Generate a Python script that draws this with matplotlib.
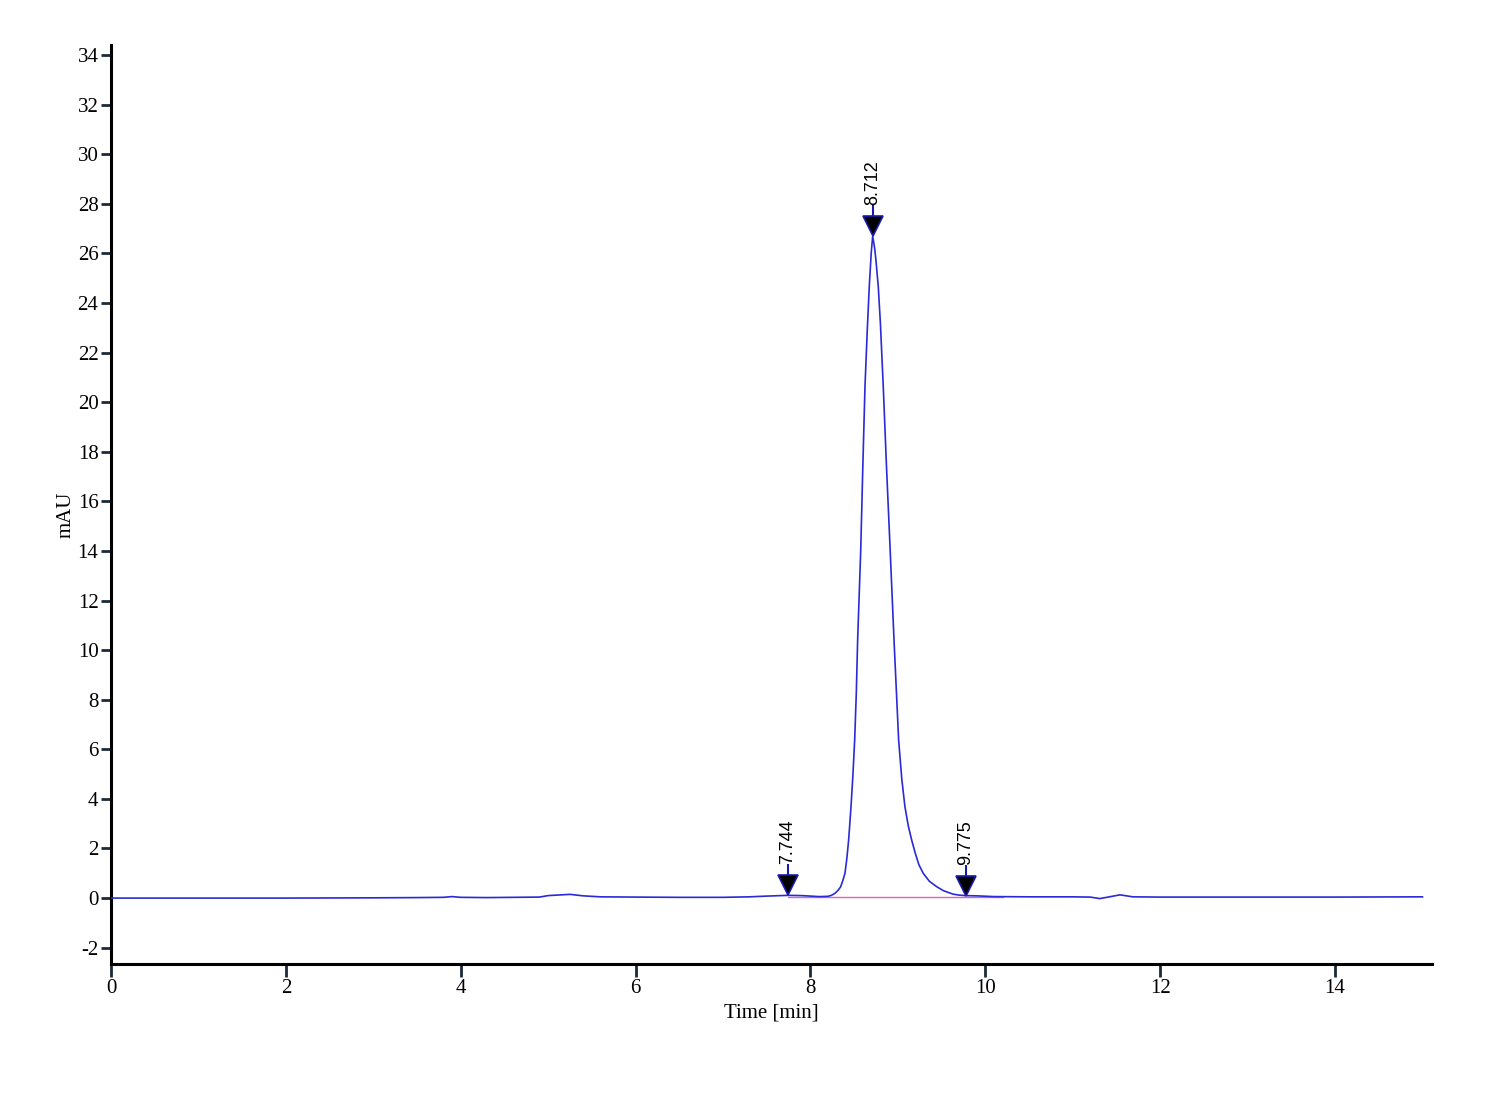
import matplotlib
matplotlib.use("Agg")
import matplotlib.pyplot as plt
import matplotlib.transforms as mtransforms

# ---- data ----
time_min = [0.0, 1.0, 2.0, 3.0, 3.5, 3.8, 3.9, 4.0, 4.3, 4.6, 4.9, 5.0, 5.1, 5.25, 5.4, 5.6,
            6.0, 6.5, 7.0, 7.3, 7.5, 7.744, 7.9, 8.1, 8.2, 8.24, 8.28, 8.32, 8.346, 8.37, 8.395,
            8.415, 8.437, 8.464, 8.485, 8.506, 8.525, 8.540, 8.575, 8.60, 8.624, 8.650, 8.673,
            8.695, 8.712, 8.735, 8.750, 8.776, 8.800, 8.833, 8.870, 8.910, 8.956, 9.009, 9.045,
            9.081, 9.12, 9.158, 9.20, 9.24, 9.29, 9.36, 9.444, 9.52, 9.63, 9.70, 9.775,
            9.9, 10.1, 10.5, 11.0, 11.2, 11.31, 11.42, 11.54, 11.69, 12.0, 13.0, 14.0, 15.0]
signal_mau = [0.0, 0.0, 0.0, 0.01, 0.02, 0.03, 0.06, 0.03, 0.02, 0.03, 0.04, 0.10, 0.12, 0.15, 0.09, 0.05,
              0.04, 0.03, 0.03, 0.05, 0.08, 0.11, 0.10, 0.06, 0.07, 0.11, 0.19, 0.33, 0.46, 0.70, 1.00,
              1.55, 2.34, 3.68, 4.90, 6.37, 8.30, 10.41, 14.00, 17.50, 20.63, 22.90, 24.66,
              26.00, 26.70, 26.20, 25.70, 24.66, 23.20, 20.63, 17.40, 14.20, 10.41, 6.37, 4.80,
              3.68, 2.90, 2.34, 1.80, 1.35, 1.00, 0.68, 0.46, 0.30, 0.16, 0.12, 0.10,
              0.09, 0.06, 0.05, 0.05, 0.04, -0.02, 0.05, 0.13, 0.05, 0.04, 0.04, 0.04, 0.05]

peak_times = [7.744, 8.712, 9.775]
peak_heights = [0.11, 26.70, 0.10]
peak_labels = ["7.744", "8.712", "9.775"]

baseline_t = [7.744, 10.2]
baseline_y = [0.05, 0.05]

x_ticks = [0, 2, 4, 6, 8, 10, 12, 14]
y_ticks = [-2, 0, 2, 4, 6, 8, 10, 12, 14, 16, 18, 20, 22, 24, 26, 28, 30, 32, 34]

# ---- figure ----
fig = plt.figure(figsize=(15, 11), dpi=100)
ax = fig.add_axes([0.074, 0.1236, 0.8807, 0.8354])

ax.plot(baseline_t, baseline_y, color="#e060c0", lw=1.0, zorder=2)
ax.plot(time_min, signal_mau, color="#2a2ad8", lw=1.2, zorder=3)

serif = ["Liberation Serif", "DejaVu Serif"]
sans = ["Liberation Sans", "DejaVu Sans"]

def shifted(dy):
    return mtransforms.offset_copy(ax.transData, fig=fig, x=0, y=dy, units="dots")

# peak markers: triangle with tip on the curve, short stem and rotated label
for t, h, lab in zip(peak_times, peak_heights, peak_labels):
    ax.plot([t], [h], marker="v", markersize=14, color="black",
            markeredgecolor="#1a1ab0", markeredgewidth=1.2, transform=shifted(10), zorder=5)
    ax.plot([t], [h], marker="|", markersize=8, color="#1a1ab0", mew=1.5,
            transform=shifted(25), zorder=4)
    ax.text(t, h, lab, rotation=90, ha="center", va="bottom", fontsize=13, family=sans,
            transform=shifted(31), zorder=6)

ax.set_xlim(0, 15.11)
ax.set_ylim(-2.66, 34.4)
ax.set_xticks(x_ticks)
ax.set_yticks(y_ticks)
ax.set_xticklabels([str(v) for v in x_ticks], family=serif, fontsize=15)
ax.set_yticklabels([str(v) for v in y_ticks], family=serif, fontsize=15)

for side in ["top", "right"]:
    ax.spines[side].set_visible(False)
for side in ["left", "bottom"]:
    ax.spines[side].set_linewidth(2.2)
    ax.spines[side].set_color("black")

ax.tick_params(axis="both", direction="out", length=7, width=2, color="#1a2a3a", pad=2)
ax.tick_params(axis="x", length=9)

ax.set_xlabel("Time [min]", family=serif, fontsize=15, labelpad=4)
ax.set_ylabel("mAU", family=serif, fontsize=15)
ax.yaxis.set_label_coords(-0.027, 0.4886)

fig.savefig("out.png", dpi=100, facecolor="white")
